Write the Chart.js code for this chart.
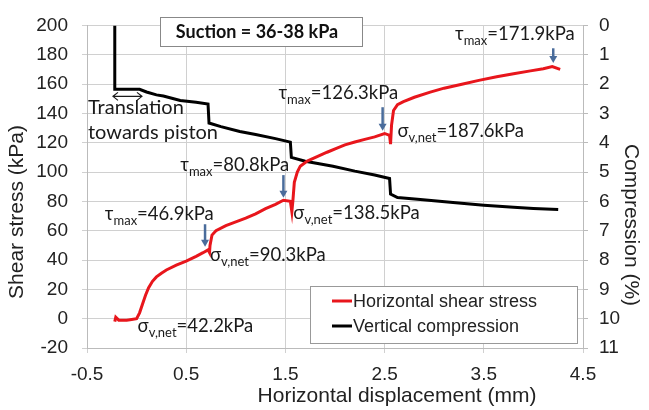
<!DOCTYPE html>
<html>
<head>
<meta charset="utf-8">
<script src="https://cdn.jsdelivr.net/npm/chart.js@4"></script>
<style>
html, body { margin: 0; padding: 0; background: #fff; }
</style>
</head>
<body>
<canvas id="myChart" width="649" height="410"></canvas>
<script>
// horizontal displacement (mm) / shear stress (kPa)
const shearX = [-0.22, -0.21, -0.18, -0.1, -0.05, 0.0, 0.03, 0.06, 0.09, 0.12, 0.16, 0.2, 0.25, 0.3, 0.4, 0.5, 0.6, 0.67, 0.72, 0.735,
    0.74, 0.76, 0.8, 0.9, 1.0, 1.1, 1.2, 1.3, 1.4, 1.48, 1.55, 1.565, 1.575, 1.59, 1.62, 1.65, 1.72, 1.82, 1.92, 2.02, 2.1, 2.2, 2.3, 2.4, 2.5,
    2.55, 2.56, 2.57, 2.59, 2.63, 2.69, 2.8, 2.96, 3.1, 3.29, 3.45, 3.63, 3.8, 3.97, 4.1, 4.19, 4.27];
const shearKPa = [-2, 1, -1, -1, -0.5, 0, 4, 10, 16, 21, 25.5, 28.5, 31, 33.2, 36.5, 39.2, 42.5, 45, 46.9, 45,
    50, 57, 60, 63.5, 66, 68.5, 71.5, 75, 78, 80.8, 80, 73, 80, 93, 100, 104, 107.5, 110.5, 113.5, 116.3, 118.5, 120.5, 122.3, 124, 126.3,
    125, 119, 132, 142, 146, 148, 151, 154.5, 157.2, 160, 162.5, 165, 167, 169, 170.5, 171.9, 170];

// horizontal displacement (mm) / vertical compression (%)
const compX = [-0.22, -0.22, 0.03, 0.1, 0.2, 0.27, 0.44, 0.6, 0.72, 0.73, 0.85, 1.04, 1.2, 1.4, 1.55, 1.56, 1.7, 1.98, 2.2, 2.4, 2.55,
    2.56, 2.63, 2.86, 3.19, 3.5, 3.8, 4.0, 4.25];
const compPct = [0, 2.18, 2.18, 2.27, 2.37, 2.41, 2.56, 2.62, 2.68, 3.33, 3.45, 3.62, 3.72, 3.86, 3.98, 4.5, 4.63, 4.8, 4.97, 5.1, 5.22,
    5.75, 5.87, 5.94, 6.04, 6.13, 6.2, 6.24, 6.28];

const xTicks = [-0.5, 0.5, 1.5, 2.5, 3.5, 4.5];
const seriesNames = ['Horizontal shear stress', 'Vertical compression'];

// labels put on the curves (x in mm, y in kPa)
const notes = [
    { x: 3.21, y: 189.8, sym: 'τ', sub: 'max', rest: '=171.9kPa' },
    { x: 1.43, y: 149.6, sym: 'τ', sub: 'max', rest: '=126.3kPa' },
    { x: 2.63, y: 124, sym: 'σ', sub: 'v,net', rest: '=187.6kPa' },
    { x: 0.44, y: 100.6, sym: 'τ', sub: 'max', rest: '=80.8kPa' },
    { x: 1.58, y: 67.7, sym: 'σ', sub: 'v,net', rest: '=138.5kPa' },
    { x: -0.32, y: 67, sym: 'τ', sub: 'max', rest: '=46.9kPa' },
    { x: 0.74, y: 39.6, sym: 'σ', sub: 'v,net', rest: '=90.3kPa' },
    { x: 0.01, y: -9.4, sym: 'σ', sub: 'v,net', rest: '=42.2kPa' }
];
const arrows = [
    { x: 4.20, from: 184.4, to: 174.4 },
    { x: 2.48, from: 144.2, to: 128.1 },
    { x: 1.48, from: 97.9, to: 82.5 },
    { x: 0.69, from: 64.4, to: 49 }
];

const ANNOT_FONT = 'Lato, "Open Sans", sans-serif';
const AXIS_FONT = '"Liberation Sans", Arial, sans-serif';

function subText(ctx, x, y, sym, sub, rest) {
    ctx.textAlign = 'left';
    ctx.textBaseline = 'alphabetic';
    ctx.font = '18.5px ' + ANNOT_FONT;
    ctx.fillText(sym, x, y);
    x += ctx.measureText(sym).width;
    ctx.font = '13px ' + ANNOT_FONT;
    ctx.fillText(sub, x, y + 5);
    x += ctx.measureText(sub).width;
    ctx.font = '18.5px ' + ANNOT_FONT;
    ctx.fillText(rest, x, y);
}

const extras = {
    id: 'extras',
    afterDraw(chart) {
        const ctx = chart.ctx;
        const xs = chart.scales.x, ys = chart.scales.y;
        const area = chart.chartArea;
        ctx.save();

        // axis titles
        ctx.fillStyle = '#222';
        ctx.font = '21px ' + AXIS_FONT;
        ctx.textAlign = 'center';
        ctx.textBaseline = 'middle';
        ctx.save();
        ctx.translate(17, 212);
        ctx.rotate(-Math.PI / 2);
        ctx.fillText('Shear stress (kPa)', 0, 0);
        ctx.restore();
        ctx.save();
        ctx.translate(631, 225);
        ctx.rotate(Math.PI / 2);
        ctx.fillText('Compression (%)', 0, 0);
        ctx.restore();
        ctx.fillText('Horizontal displacement (mm)', 397, 396);

        // curve labels
        ctx.fillStyle = '#1a1a1a';
        notes.forEach(n => subText(ctx, xs.getPixelForValue(n.x), ys.getPixelForValue(n.y), n.sym, n.sub, n.rest));

        // blue arrows
        ctx.strokeStyle = '#4a6c9b';
        ctx.fillStyle = '#4a6c9b';
        ctx.lineWidth = 2.5;
        arrows.forEach(a => {
            const px = xs.getPixelForValue(a.x);
            const p0 = ys.getPixelForValue(a.from);
            const p1 = ys.getPixelForValue(a.to);
            ctx.beginPath();
            ctx.moveTo(px, p0);
            ctx.lineTo(px, p1 - 6);
            ctx.stroke();
            ctx.beginPath();
            ctx.moveTo(px - 4, p1 - 7);
            ctx.lineTo(px + 4, p1 - 7);
            ctx.lineTo(px, p1);
            ctx.closePath();
            ctx.fill();
        });

        // translation note
        ctx.fillStyle = '#1a1a1a';
        ctx.font = '20px ' + ANNOT_FONT;
        ctx.textAlign = 'left';
        ctx.textBaseline = 'alphabetic';
        ctx.fillText('Translation', xs.getPixelForValue(-0.5) + 1, ys.getPixelForValue(139.5));
        ctx.fillText('towards piston', xs.getPixelForValue(-0.5) + 1, ys.getPixelForValue(122.7));
        const ax0 = xs.getPixelForValue(-0.238), ax1 = xs.getPixelForValue(0.054), ay = ys.getPixelForValue(151.6);
        ctx.strokeStyle = '#1a1a1a';
        ctx.lineWidth = 1.2;
        ctx.beginPath();
        ctx.moveTo(ax0, ay); ctx.lineTo(ax1, ay);
        ctx.moveTo(ax0 + 5, ay - 4); ctx.lineTo(ax0, ay); ctx.lineTo(ax0 + 5, ay + 4);
        ctx.moveTo(ax1 - 5, ay - 4); ctx.lineTo(ax1, ay); ctx.lineTo(ax1 - 5, ay + 4);
        ctx.stroke();

        // suction box
        ctx.fillStyle = '#fff';
        ctx.strokeStyle = '#888';
        ctx.lineWidth = 1;
        ctx.fillRect(160, 17, 202, 29);
        ctx.strokeRect(160.5, 17.5, 202, 29);
        ctx.fillStyle = '#111';
        ctx.font = 'bold 18px ' + ANNOT_FONT;
        ctx.textAlign = 'center';
        ctx.textBaseline = 'middle';
        ctx.fillText('Suction = 36-38 kPa', 257, 32);

        // legend
        const lw = 267, lh = 57;
        const lx = area.right - 6 - lw, ly = area.bottom - 5 - lh;
        ctx.fillStyle = '#fff';
        ctx.fillRect(lx, ly, lw, lh);
        ctx.strokeStyle = '#999';
        ctx.strokeRect(lx + 0.5, ly + 0.5, lw, lh);
        ctx.font = '18px ' + AXIS_FONT;
        ctx.textAlign = 'left';
        ctx.textBaseline = 'middle';
        chart.data.datasets.forEach((ds, i) => {
            const cy = ly + 15 + i * 25;
            ctx.strokeStyle = ds.borderColor;
            ctx.lineWidth = 3;
            ctx.beginPath();
            ctx.moveTo(lx + 22, cy);
            ctx.lineTo(lx + 42, cy);
            ctx.stroke();
            ctx.fillStyle = '#222';
            ctx.fillText(ds.label, lx + 43, cy + 1);
        });

        ctx.restore();
    }
};

const ctx = document.getElementById('myChart');

const myChart = new Chart(ctx, {
    type: 'scatter',
    data: {
        datasets: [{
            label: seriesNames[0],
            data: shearX.map((v, i) => ({ x: v, y: shearKPa[i] })),
            borderColor: '#e8161c',
            borderWidth: 3,
            showLine: true,
            pointRadius: 0,
            yAxisID: 'y'
        }, {
            label: seriesNames[1],
            data: compX.map((v, i) => ({ x: v, y: compPct[i] })),
            borderColor: '#000',
            borderWidth: 3,
            showLine: true,
            pointRadius: 0,
            yAxisID: 'y2'
        }]
    },
    options: {
        responsive: false,
        animation: false,
        layout: { padding: { top: 20 } },
        plugins: {
            legend: { display: false },
            tooltip: { enabled: false }
        },
        scales: {
            x: {
                type: 'linear',
                min: -0.5,
                max: 4.5,
                afterBuildTicks: s => { s.ticks = xTicks.map(v => ({ value: v })); },
                afterFit: s => { s.height = 62; },
                grid: { color: '#d0d0d0', tickLength: 5 },
                border: { color: '#bbb' },
                ticks: {
                    font: { family: AXIS_FONT, size: 19 },
                    color: '#222',
                    padding: 10,
                    maxRotation: 0,
                    callback: v => v.toFixed(1)
                }
            },
            y: {
                position: 'left',
                min: -20,
                max: 200,
                afterFit: s => { s.width = 87; },
                grid: { color: '#d0d0d0', tickLength: 5 },
                border: { color: '#bbb' },
                ticks: {
                    stepSize: 20,
                    font: { family: AXIS_FONT, size: 19 },
                    color: '#222',
                    padding: 14
                }
            },
            y2: {
                position: 'right',
                min: 0,
                max: 11,
                reverse: true,
                afterFit: s => { s.width = 66; },
                grid: { drawOnChartArea: false, color: '#bbb', tickLength: 5 },
                border: { color: '#bbb' },
                ticks: {
                    stepSize: 1,
                    font: { family: AXIS_FONT, size: 19 },
                    color: '#222',
                    padding: 11
                }
            }
        }
    },
    plugins: [extras]
});
</script>
</body>
</html>
